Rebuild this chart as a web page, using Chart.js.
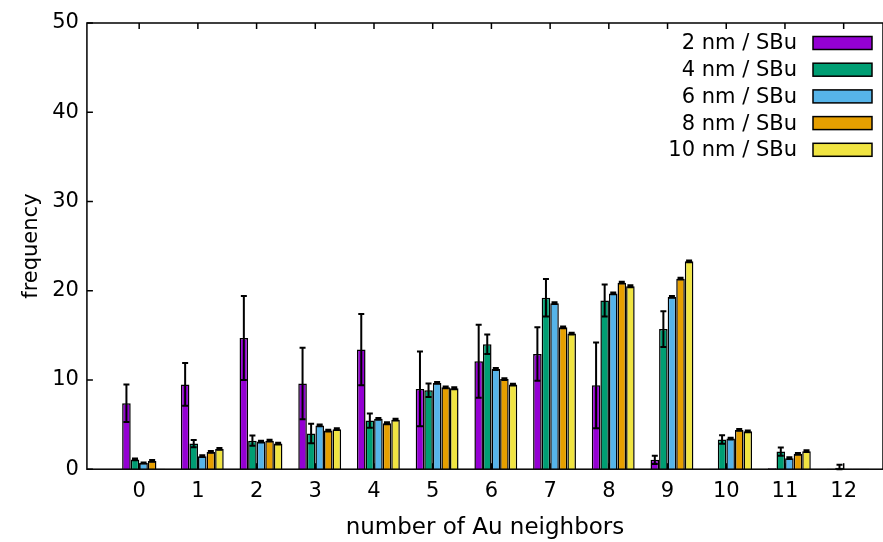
<!DOCTYPE html>
<html>
<head>
<meta charset="utf-8">
<script src="https://cdn.jsdelivr.net/npm/chart.js@4/dist/chart.umd.min.js"></script>
<style>
  html, body { margin: 0; padding: 0; background: #fff; }
  #wrap { width: 883px; height: 542px; }
</style>
</head>
<body>
<div id="wrap"><canvas id="myChart"></canvas></div>
<script>
const categories = [0, 1, 2, 3, 4, 5, 6, 7, 8, 9, 10, 11, 12];
const seriesLabels = ["2 nm / SBu", "4 nm / SBu", "6 nm / SBu", "8 nm / SBu", "10 nm / SBu"];
const seriesColors = ["#9400d3", "#009e73", "#56b4e9", "#e69f00", "#f0e442"];

const nm2 = [7.4, 9.5, 14.7, 9.6, 13.4, 9.0, 12.1, 12.9, 9.4, 1.05, 0.05, 0.1, 0.05];
const nm2Err = [2.1, 2.4, 4.7, 4.0, 4.0, 4.2, 4.1, 3.0, 4.8, 0.47, 0, 0, 0];
const nm4 = [1.1, 2.87, 3.2, 4.0, 5.45, 8.85, 14.0, 19.2, 18.9, 15.7, 3.32, 1.98, 0.15];
const nm4Err = [0.1, 0.4, 0.57, 1.1, 0.8, 0.75, 1.1, 2.1, 1.8, 2.0, 0.48, 0.46, 0.35];
const nm6 = [0.7, 1.46, 3.1, 4.9, 5.64, 9.67, 11.23, 18.6, 19.7, 19.3, 3.43, 1.23, 0.05];
const nm6Err = [0.05, 0.1, 0.1, 0.1, 0.1, 0.1, 0.1, 0.1, 0.1, 0.1, 0.1, 0.1, 0];
const nm8 = [0.93, 1.94, 3.2, 4.33, 5.15, 9.18, 10.1, 15.9, 20.9, 21.35, 4.4, 1.72, 0.05];
const nm8Err = [0.1, 0.1, 0.1, 0.1, 0.1, 0.1, 0.1, 0.1, 0.1, 0.1, 0.1, 0.1, 0];
const nm10 = [0.05, 2.27, 2.87, 4.48, 5.55, 9.07, 9.48, 15.2, 20.5, 23.3, 4.25, 2.02, 0.05];
const nm10Err = [0, 0.1, 0.1, 0.1, 0.1, 0.1, 0.1, 0.1, 0.1, 0.1, 0.1, 0.1, 0];

const yTicks = [0, 10, 20, 30, 40, 50];
const xMin = -0.89, xMax = 12.67;
const barShift = 0.075; // clusters sit a little right of their tick

const values = [nm2, nm4, nm6, nm8, nm10];
const errors = [nm2Err, nm4Err, nm6Err, nm8Err, nm10Err];
const FONT = "'DejaVu Sans', sans-serif";

const errorBars = {
  id: "errorBars",
  beforeDatasetsDraw(chart) {
    const { ctx, chartArea: a, scales } = chart;
    ctx.save();
    ctx.strokeStyle = "#000";
    ctx.lineWidth = 1.5;
    categories.forEach((c) => {
      const x = scales.x.getPixelForValue(c);
      ctx.beginPath();
      ctx.moveTo(x, a.bottom);
      ctx.lineTo(x, a.bottom - 6);
      ctx.stroke();
    });
    ctx.restore();
  },
  afterDatasetsDraw(chart) {
    const { ctx, chartArea: a, scales } = chart;
    const y = scales.y;
    ctx.save();
    ctx.strokeStyle = "#000";
    ctx.lineWidth = 2;
    values.forEach((vals, i) => {
      const meta = chart.getDatasetMeta(i);
      meta.data.forEach((bar, j) => {
        const e = errors[i][j];
        if (!e) return;
        const top = y.getPixelForValue(vals[j] + e);
        const bot = y.getPixelForValue(Math.max(0, vals[j] - e));
        ctx.beginPath();
        ctx.moveTo(bar.x, top);
        ctx.lineTo(bar.x, bot);
        ctx.moveTo(bar.x - 3, top);
        ctx.lineTo(bar.x + 3, top);
        ctx.moveTo(bar.x - 3, bot);
        ctx.lineTo(bar.x + 3, bot);
        ctx.stroke();
      });
    });

    // frame and inward ticks
    ctx.lineWidth = 1.5;
    ctx.strokeRect(a.left, a.top, a.right - a.left, a.bottom - a.top);
    ctx.beginPath();
    yTicks.forEach((v) => {
      const py = y.getPixelForValue(v);
      ctx.moveTo(a.left, py);
      ctx.lineTo(a.left + 6, py);
    });
    categories.forEach((c) => {
      const px = scales.x.getPixelForValue(c);
      ctx.moveTo(px, a.top);
      ctx.lineTo(px, a.top + 6);
    });
    ctx.stroke();

    // key, text left of the swatch
    ctx.font = "21px " + FONT;
    ctx.textAlign = "right";
    ctx.textBaseline = "middle";
    ctx.fillStyle = "#000";
    seriesLabels.forEach((lab, i) => {
      const cy = a.top + 20 + i * 26.7;
      ctx.fillText(lab, a.right - 86, cy + 1);
      ctx.fillStyle = seriesColors[i];
      ctx.fillRect(a.right - 70, cy - 6.5, 59, 13);
      ctx.strokeRect(a.right - 70, cy - 6.5, 59, 13);
      ctx.fillStyle = "#000";
    });
    ctx.restore();
  },
};

const datasets = values.map((vals, i) => ({
  label: seriesLabels[i],
  data: categories.map((c, j) => ({ x: c, y: vals[j] })),
  backgroundColor: seriesColors[i],
  borderColor: "#000",
  borderWidth: 1.5,
  xAxisID: "xb",
  categoryPercentage: 0.73,
  barPercentage: 1.0,
}));

const categoryTicks = (s) => {
  s.ticks = categories.map((c) => ({ value: c }));
};

const chart = new Chart(document.getElementById("myChart").getContext("2d"), {
  type: "bar",
  data: { datasets },
  options: {
    responsive: true,
    maintainAspectRatio: false,
    animation: false,
    layout: { padding: { left: 19, right: 0, top: 23, bottom: 0 } },
    plugins: {
      legend: { display: false },
      tooltip: { enabled: false },
    },
    scales: {
      x: {
        type: "linear",
        position: "bottom",
        offset: false,
        min: xMin,
        max: xMax,
        afterBuildTicks: categoryTicks,
        grid: { display: false, drawTicks: false },
        border: { display: false },
        ticks: {
          color: "#000",
          font: { family: FONT, size: 21 },
          padding: 10,
          maxRotation: 0,
          callback: (v) => String(v),
        },
        title: {
          display: true,
          text: "number of Au neighbors",
          color: "#000",
          font: { family: FONT, size: 23 },
          padding: { top: 0, bottom: 0 },
        },
      },
      xb: {
        type: "linear",
        display: false,
        offset: false,
        min: xMin - barShift,
        max: xMax - barShift,
        afterBuildTicks: categoryTicks,
      },
      y: {
        min: 0,
        max: 50,
        afterBuildTicks: (s) => {
          s.ticks = yTicks.map((v) => ({ value: v }));
        },
        grid: { display: false, drawTicks: false },
        border: { display: false },
        ticks: {
          color: "#000",
          font: { family: FONT, size: 21 },
          padding: 8,
        },
        title: {
          display: true,
          text: "frequency",
          color: "#000",
          font: { family: FONT, size: 21 },
          padding: { top: 0, bottom: 0 },
        },
      },
    },
  },
  plugins: [errorBars],
});
</script>
</body>
</html>
